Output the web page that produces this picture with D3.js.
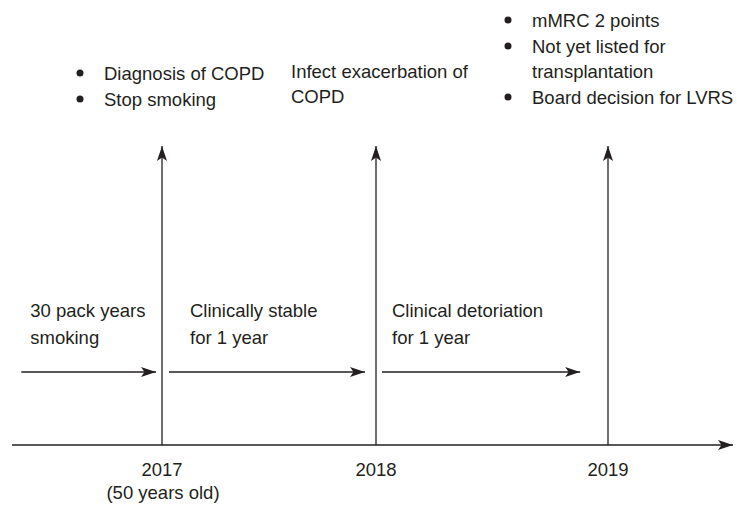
<!DOCTYPE html>
<html>
<head>
<meta charset="utf-8">
<script src="https://cdn.jsdelivr.net/npm/d3@7/dist/d3.min.js"></script>
<style>
  body { margin: 0; background: #fff; }
  text { font-family: "Liberation Sans", Arial, Helvetica, sans-serif; font-size: 18.5px; fill: #231f20; }
</style>
</head>
<body>
<svg id="chart" width="737" height="507"></svg>
<script>
// timeline data
var years = [2017, 2018, 2019];
var yearLabels = ["2017", "2018", "2019"];
var yearSubLabels = ["(50 years old)", "", ""];

var periodStart = [2016.32, 2017, 2018];
var periodEnd = [2017, 2018, 2018.88];
var periodLabels = [
  ["30 pack years", "smoking"],
  ["Clinically stable", "for 1 year"],
  ["Clinical detoriation", "for 1 year"]
];

var eventBullets = [true, false, true];
var eventLabels = [
  [["Diagnosis of COPD"], ["Stop smoking"]],
  [["Infect exacerbation of", "COPD"]],
  [["mMRC 2 points"], ["Not yet listed for", "transplantation"], ["Board decision for LVRS"]]
];

var ink = "#231f20";
var svg = d3.select("#chart");

// years are not evenly spaced in the picture, so piecewise scale
var x = d3.scaleLinear()
  .domain([2016.3, 2017, 2018, 2019, 2019.54])
  .range([12, 162, 376, 608, 733]);

var axisY = 445, topY = 146, periodY = 372;

// arrowhead
svg.append("defs").append("marker")
  .attr("id", "head")
  .attr("viewBox", "0 0 15 10")
  .attr("refX", 15).attr("refY", 5)
  .attr("markerWidth", 15).attr("markerHeight", 10)
  .attr("markerUnits", "userSpaceOnUse")
  .attr("orient", "auto")
  .append("path")
  .attr("d", "M0,0 L15,5 L0,10 L3.5,5 Z")
  .attr("fill", ink);

// main axis
svg.append("line")
  .attr("x1", x(2016.3)).attr("x2", x(2019.54))
  .attr("y1", axisY).attr("y2", axisY)
  .attr("stroke", ink).attr("stroke-width", 1.3)
  .attr("marker-end", "url(#head)");

// vertical event arrows
svg.selectAll(".event")
  .data(years)
  .enter().append("line")
    .attr("class", "event")
    .attr("x1", function(d) { return x(d); })
    .attr("x2", function(d) { return x(d); })
    .attr("y1", axisY).attr("y2", topY)
    .attr("stroke", ink).attr("stroke-width", 1.3)
    .attr("marker-end", "url(#head)");

// year labels
svg.selectAll(".year")
  .data(years)
  .enter().append("text")
    .attr("x", function(d) { return x(d); })
    .attr("y", axisY + 31)
    .attr("text-anchor", "middle")
    .text(function(d, i) { return yearLabels[i]; });

svg.selectAll(".sub")
  .data(years)
  .enter().append("text")
    .attr("x", function(d) { return x(d) + 1; })
    .attr("y", axisY + 54)
    .attr("text-anchor", "middle")
    .text(function(d, i) { return yearSubLabels[i]; });

// period arrows
var startPad = [5, 7, 6], endPad = [6, 11, 0];
svg.selectAll(".period")
  .data(periodStart)
  .enter().append("line")
    .attr("x1", function(d, i) { return x(d) + startPad[i]; })
    .attr("x2", function(d, i) { return x(periodEnd[i]) - endPad[i]; })
    .attr("y1", periodY).attr("y2", periodY)
    .attr("stroke", ink).attr("stroke-width", 1.3)
    .attr("marker-end", "url(#head)");

var labelPad = [14, 28, 16];
periodLabels.forEach(function(lines, i) {
  lines.forEach(function(s, j) {
    svg.append("text")
      .attr("x", x(periodStart[i]) + labelPad[i])
      .attr("y", 317 + j * 27)
      .text(s);
  });
});

// event notes above the arrows
var noteX = [104, 291, 532], noteY = [80, 78, 27];
eventLabels.forEach(function(items, i) {
  var y = noteY[i];
  items.forEach(function(lines) {
    if (eventBullets[i]) {
      svg.append("circle")
        .attr("cx", noteX[i] - 24).attr("cy", y - 7)
        .attr("r", 3.5).attr("fill", ink);
    }
    lines.forEach(function(s, j) {
      svg.append("text")
        .attr("x", noteX[i])
        .attr("y", y + j * 25)
        .text(s);
    });
    y += (lines.length - 1) * 25 + 26;
  });
});
</script>
</body>
</html>
